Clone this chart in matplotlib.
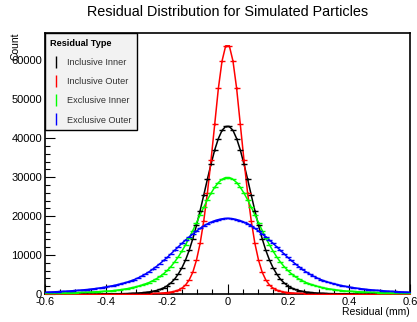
import matplotlib
matplotlib.use('Agg')
import numpy as np
import matplotlib.pyplot as plt
from matplotlib.lines import Line2D
from matplotlib.ticker import MultipleLocator

plt.rcParams['font.family'] = ['Liberation Sans', 'DejaVu Sans']

# histogram binning: 100 bins on [-0.6, 0.6]
bin_lo, bin_hi, n_bins = -0.6, 0.6, 100
edges = np.linspace(bin_lo, bin_hi, n_bins + 1)
centers = 0.5 * (edges[:-1] + edges[1:])

labels = ['Inclusive Inner', 'Inclusive Outer', 'Exclusive Inner', 'Exclusive Outer']
colors = ['black', 'red', '#00ff00', 'blue']

# counts per bin, left to right
incl_inner = [7, 8, 8, 9, 10, 11, 12, 13, 14, 16, 18, 20, 23, 26, 30, 35, 41, 48, 57, 68,
              82, 100, 125, 155, 195, 245, 310, 400, 520, 680, 890, 1180, 1580, 2100, 2850,
              3800, 5100, 6700, 8700, 11200, 14200, 17600, 21400, 25400, 29500, 33400,
              37000, 39900, 42000, 43000,
              43000, 42000, 39900, 37000, 33400, 29500, 25400, 21400, 17600, 14200, 11200,
              8700, 6700, 5100, 3800, 2850, 2100, 1580, 1180, 890, 680, 520, 400, 310, 245,
              195, 155, 125, 100, 82, 68, 57, 48, 41, 35, 30, 26, 23, 20, 18, 16, 14, 13, 12,
              11, 10, 9, 8, 8, 7]
incl_outer = [4, 4, 5, 5, 5, 6, 6, 7, 7, 8, 8, 9, 10, 11, 12, 13, 15, 17, 19, 22, 25, 29,
              34, 40, 48, 58, 70, 85, 105, 130, 165, 210, 280, 370, 500, 700, 1000, 1500,
              2300, 3600, 5600, 8700, 13000, 18800, 26000, 34500, 43600, 52800, 59800, 63700,
              63700, 59800, 52800, 43600, 34500, 26000, 18800, 13000, 8700, 5600, 3600, 2300,
              1500, 1000, 700, 500, 370, 280, 210, 165, 130, 105, 85, 70, 58, 48, 40, 34, 29,
              25, 22, 19, 17, 15, 13, 12, 11, 10, 9, 8, 8, 7, 7, 6, 6, 5, 5, 5, 4, 4]
excl_inner = [208, 222, 237, 254, 272, 292, 315, 340, 365, 395, 430, 465, 505, 550, 600,
              660, 720, 760, 850, 950, 1070, 1210, 1370, 1550, 1760, 2000, 2280, 2600, 2950,
              3400, 3900, 4500, 5200, 6050, 7050, 8200, 9500, 11000, 12600, 14400, 16300,
              18300, 20300, 22300, 24200, 25900, 27400, 28600, 29450, 29900,
              29900, 29450, 28600, 27400, 25900, 24200, 22300, 20300, 18300, 16300, 14400,
              12600, 11000, 9500, 8200, 7050, 6050, 5200, 4500, 3900, 3400, 2950, 2600, 2280,
              2000, 1760, 1550, 1370, 1210, 1070, 950, 850, 760, 720, 660, 600, 550, 505,
              465, 430, 395, 365, 340, 315, 292, 272, 254, 237, 222, 208]
excl_outer = [480, 515, 555, 600, 650, 705, 765, 830, 900, 975, 1060, 1150, 1250, 1360,
              1480, 1620, 1770, 1940, 2120, 2320, 2540, 2780, 3050, 3360, 3720, 4130, 4600,
              5120, 5700, 6350, 7050, 7800, 8600, 9400, 10300, 11200, 12100, 13000, 13850,
              14650, 15400, 16150, 16870, 17470, 18000, 18450, 18820, 19100, 19300, 19400,
              19400, 19300, 19100, 18820, 18450, 18000, 17470, 16870, 16150, 15400, 14650,
              13850, 13000, 12100, 11200, 10300, 9400, 8600, 7800, 7050, 6350, 5700, 5120,
              4600, 4130, 3720, 3360, 3050, 2780, 2540, 2320, 2120, 1940, 1770, 1620, 1480,
              1360, 1250, 1150, 1060, 975, 900, 830, 765, 705, 650, 600, 555, 515, 480]
series = [incl_inner, incl_outer, excl_inner, excl_outer]

fig = plt.figure(figsize=(4.17, 3.22), dpi=100)
ax = fig.add_axes([45 / 417, 1 - 294 / 322, 365 / 417, 261 / 322])

for counts, col in zip(series, colors):
    y = np.asarray(counts, dtype=float)
    ax.plot(centers, y, color=col, lw=1.1, zorder=2)
    ax.errorbar(centers, y, yerr=np.sqrt(y), fmt='none', ecolor=col, elinewidth=0.8, zorder=3)
    ax.plot(centers, y, ls='none', marker='_', ms=4, mew=1.0, color=col, zorder=3)

ax.set_xlim(bin_lo, bin_hi)
ax.set_ylim(0, 67000)

ax.xaxis.set_major_locator(MultipleLocator(0.2))
ax.xaxis.set_minor_locator(MultipleLocator(0.05))
ax.yaxis.set_major_locator(MultipleLocator(10000))
ax.yaxis.set_minor_locator(MultipleLocator(2000))
ax.tick_params(which='both', direction='in', top=False, right=False, labelsize=8, pad=2)
ax.tick_params(which='major', length=7, width=0.8)
ax.tick_params(which='minor', length=3.5, width=0.8)
ax.set_xticklabels([f'{v:g}' for v in ax.get_xticks()])
for s in ax.spines.values():
    s.set_linewidth(1.2)

fig.text(227.5 / 417, 1 - 12.5 / 322, 'Residual Distribution for Simulated Particles',
         ha='center', va='center', fontsize=10.4)
fig.text(410 / 417, 1 - 312 / 322, 'Residual (mm)', ha='right', va='center', fontsize=7.5)
fig.text(16 / 417, 1 - 33 / 322, 'Count', ha='center', va='top', rotation=90, fontsize=7.5)

handles = [Line2D([], [], ls='none', marker='|', ms=9, mew=1.0, color=c) for c in colors]
leg = ax.legend(handles, labels, loc='upper left', bbox_to_anchor=(0, 1), borderaxespad=0,
                title='Residual Type', title_fontproperties={'weight': 'bold', 'size': 6.6},
                fontsize=6.6, frameon=True, fancybox=False, edgecolor='black',
                facecolor='#f2f2f2', framealpha=1, labelspacing=1.12, handlelength=1.3,
                handletextpad=0.45, borderpad=0.6, alignment='left')
leg.get_frame().set_linewidth(1.0)
for t in leg.get_texts():
    t.set_color('#333333')

fig.savefig('out.png', dpi=100)
